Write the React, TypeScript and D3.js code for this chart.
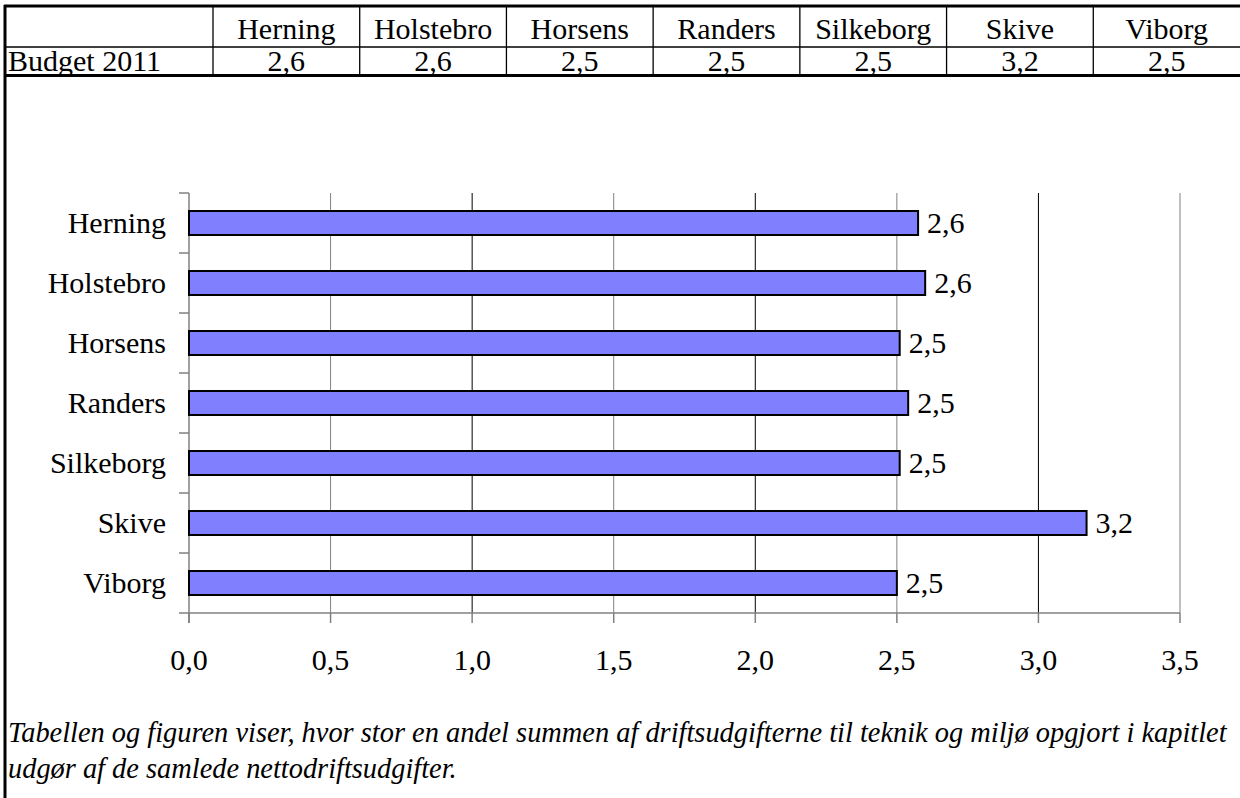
import React from 'react';
import { scaleLinear, scaleBand, format, range } from 'd3';

const kommuner = ['Herning', 'Holstebro', 'Horsens', 'Randers', 'Silkeborg', 'Skive', 'Viborg'];
// values
const budget2011 = [2.575, 2.6, 2.51, 2.54, 2.51, 3.17, 2.5];
const rowLabel = 'Budget 2011';
const xTicks = [0, 0.5, 1, 1.5, 2, 2.5, 3, 3.5];
const captionLines = [
  'Tabellen og figuren viser, hvor stor en andel summen af driftsudgifterne til teknik og miljø opgjort i kapitlet',
  'udgør af de samlede nettodriftsudgifter.',
];

const W = 1240;
const H = 798;
const font = "'Liberation Serif', 'DejaVu Serif', serif";

const fmt = (v: number) => format('.1f')(v).replace('.', ',');

const App = () => {
  // table columns
  const colScale = scaleBand<string>().domain(kommuner).range([213, W]);

  // chart scales
  const xScale = scaleLinear().domain([0, 3.5]).range([189, 1180]);
  const yScale = scaleBand<string>()
    .domain(kommuner)
    .range([193, 613])
    .paddingInner(0.6)
    .paddingOuter(0.3);
  const step = yScale.step();
  const y0 = 193;
  const yBottom = 613;

  const tableLines = kommuner.map(k => (
    <line key={'v' + k} x1={colScale(k)} x2={colScale(k)} y1={5} y2={76} stroke="#000" strokeWidth={1.3} />
  ));

  const headerTexts = kommuner.map(k => (
    <text key={'h' + k} x={colScale(k)! + colScale.bandwidth() / 2} y={39} textAnchor="middle" fontSize={30}>
      {k}
    </text>
  ));

  const valueTexts = kommuner.map((k, i) => (
    <text key={'t' + k} x={colScale(k)! + colScale.bandwidth() / 2} y={71} textAnchor="middle" fontSize={30}>
      {fmt(budget2011[i])}
    </text>
  ));

  const grid = xTicks.slice(1).map(t => (
    <line
      key={'g' + t}
      x1={xScale(t)}
      x2={xScale(t)}
      y1={y0}
      y2={yBottom}
      stroke={t % 1 === 0 ? '#000' : '#808080'}
      strokeWidth={1}
    />
  ));

  const xTickMarks = xTicks.map(t => (
    <line key={'xt' + t} x1={xScale(t)} x2={xScale(t)} y1={yBottom} y2={yBottom + 10} stroke="#808080" strokeWidth={1.5} />
  ));

  const xTickLabels = xTicks.map(t => (
    <text key={'xl' + t} x={xScale(t)} y={670} textAnchor="middle" fontSize={30}>
      {fmt(t)}
    </text>
  ));

  const yTickMarks = range(kommuner.length + 1).map(i => (
    <line key={'yt' + i} x1={179} x2={xScale(0)} y1={y0 + i * step} y2={y0 + i * step} stroke="#808080" strokeWidth={1.5} />
  ));

  const bars = kommuner.map((k, i) => (
    <rect
      key={'b' + k}
      x={xScale(0)}
      y={yScale(k)}
      width={xScale(budget2011[i]) - xScale(0)}
      height={yScale.bandwidth()}
      fill="#8080FF"
      stroke="#000"
      strokeWidth={2}
    />
  ));

  const catLabels = kommuner.map(k => (
    <text key={'c' + k} x={166} y={yScale(k)! + yScale.bandwidth() / 2 + 10} textAnchor="end" fontSize={30}>
      {k}
    </text>
  ));

  const valueLabels = kommuner.map((k, i) => (
    <text key={'l' + k} x={xScale(budget2011[i]) + 9} y={yScale(k)! + yScale.bandwidth() / 2 + 10} fontSize={30}>
      {fmt(budget2011[i])}
    </text>
  ));

  return (
    <svg
      width={W}
      height={H}
      viewBox={`0 0 ${W} ${H}`}
      style={{ position: 'absolute', left: 0, top: 0, background: '#fff', fontFamily: font }}
    >
      <rect x={0} y={0} width={W} height={H} fill="#fff" />

      {/* table */}
      {tableLines}
      <line x1={5} x2={W} y1={47} y2={47} stroke="#000" strokeWidth={1.3} />
      <line x1={4} x2={W} y1={6} y2={6} stroke="#000" strokeWidth={3} />
      <line x1={4} x2={W} y1={75.5} y2={75.5} stroke="#000" strokeWidth={3} />
      <line x1={5} x2={5} y1={5} y2={H} stroke="#000" strokeWidth={3} />
      {headerTexts}
      <text x={8} y={71} fontSize={30}>{rowLabel}</text>
      {valueTexts}

      {/* chart */}
      {grid}
      <line x1={xScale(0)} x2={xScale(3.5)} y1={yBottom} y2={yBottom} stroke="#808080" strokeWidth={1.5} />
      <line x1={xScale(0)} x2={xScale(0)} y1={y0} y2={yBottom + 10} stroke="#808080" strokeWidth={1.5} />
      {xTickMarks}
      {yTickMarks}
      {bars}
      {catLabels}
      {valueLabels}
      {xTickLabels}

      {/* caption */}
      {captionLines.map((line, i) => (
        <text key={'cap' + i} x={8} y={742 + i * 36} fontSize={28.4} fontStyle="italic">
          {line}
        </text>
      ))}
    </svg>
  );
};

export default App;
